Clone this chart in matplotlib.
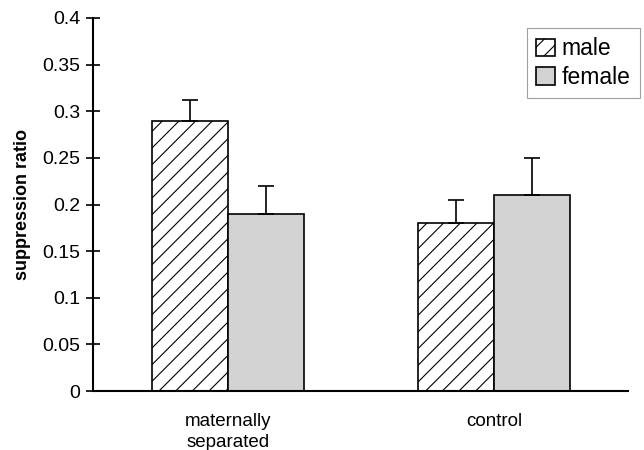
import numpy as np
import matplotlib.pyplot as plt

plt.rcParams['font.family'] = ['Liberation Sans', 'DejaVu Sans']
plt.rcParams['hatch.linewidth'] = 0.8

# data
groups = ['maternally\nseparated', 'control']
male = [0.29, 0.18]
female = [0.19, 0.21]
male_err = [0.022, 0.025]
female_err = [0.03, 0.04]

fig = plt.figure(figsize=(6.44, 4.5), dpi=100)
ax = fig.add_axes([0.144, 0.131, 0.831, 0.829])

x = np.arange(len(groups))
w = 0.286

ax.bar(x - w / 2, male, w, facecolor='white', edgecolor='black', hatch='//',
       linewidth=1.2, label='male', zorder=2)
ax.bar(x + w / 2, female, w, facecolor='#d2d2d2', edgecolor='black',
       linewidth=1.2, label='female', zorder=2)

# upper error bars only
ax.errorbar(x - w / 2, male, yerr=[np.zeros(len(male)), male_err], fmt='none',
            ecolor='black', elinewidth=1.2, capsize=6, capthick=1.2, zorder=3)
ax.errorbar(x + w / 2, female, yerr=[np.zeros(len(female)), female_err], fmt='none',
            ecolor='black', elinewidth=1.2, capsize=6, capthick=1.2, zorder=3)

ax.set_xlim(-0.508, 1.504)
ax.set_ylim(0, 0.4)
ax.set_yticks(np.arange(0, 0.41, 0.05))
ax.set_yticklabels(['0', '0.05', '0.1', '0.15', '0.2', '0.25', '0.3', '0.35', '0.4'])
ax.set_xticks(x)
ax.set_xticklabels(groups, fontsize=13.5, linespacing=1.25)
ax.tick_params(axis='x', length=0, pad=16)
ax.tick_params(axis='y', direction='inout', length=10, width=1.2, labelsize=14, pad=4)

for s in ['top', 'right']:
    ax.spines[s].set_visible(False)
ax.spines['left'].set_linewidth(1.5)
ax.spines['bottom'].set_linewidth(1.5)

ax.set_ylabel('suppression ratio', fontsize=13, fontweight='bold', labelpad=8)

leg = ax.legend(loc='upper right', bbox_to_anchor=(1.022, 0.973), fontsize=16.5,
                frameon=True, fancybox=False, edgecolor='#888888',
                handlelength=0.8, handleheight=0.8, handletextpad=0.3,
                borderpad=0.4, labelspacing=0.25, borderaxespad=0)
leg.get_frame().set_linewidth(0.8)

fig.savefig('out.png', dpi=100)
